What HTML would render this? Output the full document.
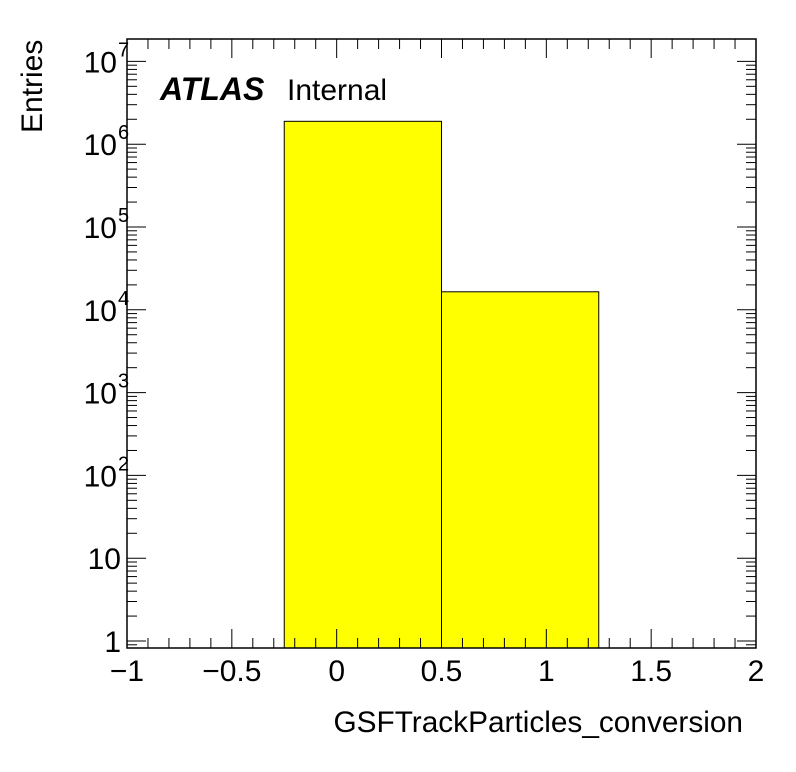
<!DOCTYPE html>
<html><head><meta charset="utf-8"><style>
body{margin:0;background:#fff;}
svg{display:block;font-family:"Liberation Sans",sans-serif;}
</style></head><body>
<svg id="chart" width="796" height="772" xmlns="http://www.w3.org/2000/svg">
<rect width="796" height="772" fill="#fff"/>
<g id="bars"></g>
<g id="axes"></g>
<text x="160" y="100" font-size="32" font-weight="bold" font-style="italic">ATLAS</text>
<text x="287" y="100" font-size="30">Internal</text>
<text x="743" y="732" font-size="29.8" text-anchor="end">GSFTrackParticles_conversion</text>
<text transform="translate(42,133) rotate(-90)" font-size="30">Entries</text>
</svg>
<script>
const binEdges = [-0.25, 0.5, 1.25];
const binValues = [1890000, 16500];
const xTickValues = [-1, -0.5, 0, 0.5, 1, 1.5, 2];
const xTickLabels = ["\u22121", "\u22120.5", "0", "0.5", "1", "1.5", "2"];
const yDecades = [0, 1, 2, 3, 4, 5, 6, 7];
const yTickLabels = ["1", "10", "10^2", "10^3", "10^4", "10^5", "10^6", "10^7"];

const L=127,R=756,T=39,B=648;
const xMin=-1,xMax=2;
const y1=641, dec=82.8;
function X(v){return L+(v-xMin)/(xMax-xMin)*(R-L);}
function Y(v){return y1-Math.log10(v)*dec;}
const NS="http://www.w3.org/2000/svg";
function mk(tag,attrs,parent){const e=document.createElementNS(NS,tag);for(const k in attrs)e.setAttribute(k,attrs[k]);parent.appendChild(e);return e;}

const bars=document.getElementById('bars');
for(let i=0;i<binValues.length;i++){
  const r=mk('rect',{x:X(binEdges[i]),y:Y(binValues[i]),width:X(binEdges[i+1])-X(binEdges[i]),height:B-Y(binValues[i]),fill:'#ffff00',stroke:'#000','stroke-width':1},bars);
  
  
}
const ax=document.getElementById('axes');
const frame=mk('rect',{x:L,y:T,width:R-L,height:B-T,fill:'none',stroke:'#000','stroke-width':1.5},ax);


for(let k=0;k<=30;k++){
  const v=xMin+k*0.1, x=X(v), major=(k%5===0);
  const len=major?19:10;
  mk('line',{x1:x,y1:B,x2:x,y2:B-len,stroke:'#000','stroke-width':1},ax);
  mk('line',{x1:x,y1:T,x2:x,y2:T+len,stroke:'#000','stroke-width':1},ax);
}
xTickValues.forEach((v,i)=>{
  const t=mk('text',{x:X(v),y:681,'font-size':30,'text-anchor':'middle'},ax);
  t.textContent=xTickLabels[i];
  
  
});
for(let d=-1;d<=7;d++){
  for(let m=1;m<=9;m++){
    const v=m*Math.pow(10,d), y=Y(v);
    if(y>B||y<T)continue;
    const len=m===1?19:10;
    mk('line',{x1:L,y1:y,x2:L+len,y2:y,stroke:'#000','stroke-width':1},ax);
    mk('line',{x1:R,y1:y,x2:R-len,y2:y,stroke:'#000','stroke-width':1},ax);
  }
}
yDecades.forEach((d,i)=>{
  const y=Y(Math.pow(10,d))+11;
  const lab=yTickLabels[i];
  const t=mk('text',{x:121,y:y,'font-size':30,'text-anchor':'end'},ax);
  if(lab.indexOf('^')>=0){
    const p=lab.split('^');
    t.setAttribute('x',117);
    t.textContent=p[0];
    const s=mk('text',{x:118,y:y-16,'font-size':20},ax);
    s.textContent=p[1];
    
    
  } else t.textContent=lab;
  
  
});
</script>
</body></html>
